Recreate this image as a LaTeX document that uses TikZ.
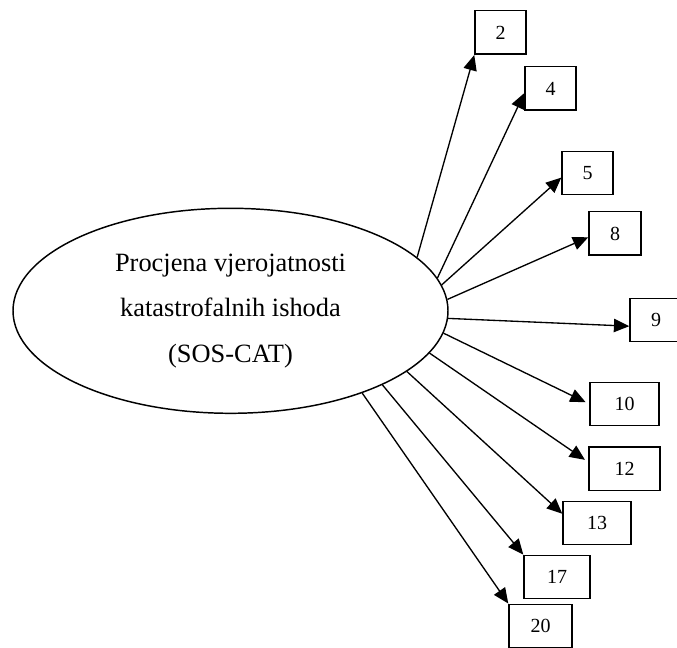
\documentclass[tikz,border=0pt]{standalone}
\usepackage{fontspec}
\setmainfont{Liberation Serif}
\usetikzlibrary{shapes.geometric,arrows.meta}
\begin{document}
\begin{tikzpicture}[x=0.75pt,y=-0.75pt,
  box/.style={draw, rectangle, line width=1.1pt, minimum height=32.6pt, inner sep=0pt, font=\fontsize{15}{18}\selectfont},
  arr/.style={draw, line width=1pt, -{Triangle[length=11.5pt,width=10pt]}}]
\clip (0,0) rectangle (677,648);
\node[draw, ellipse, line width=1.1pt, minimum width=326.25pt, minimum height=153.75pt, inner sep=0pt, align=center, font=\fontsize{19.8}{34}\selectfont] (cat) at (230.5,310.8) {Procjena vjerojatnosti\\katastrofalnih ishoda\\(SOS-CAT)};
\node[box, minimum width=38.25pt] (2) at (500.5,32.5) {2};
\node[box, minimum width=38.25pt] (4) at (550.5,88.5) {4};
\node[box, minimum width=38.25pt] (5) at (587.5,173) {5};
\node[box, minimum width=39pt] (8) at (615,233.5) {8};
\node[box, minimum width=39pt] (9) at (656,320) {9};
\node[box, minimum width=51.75pt] (10) at (624.5,404) {10};
\node[box, minimum width=53.25pt] (12) at (624.5,468.5) {12};
\node[box, minimum width=51pt] (13) at (597,523) {13};
\node[box, minimum width=49.5pt] (17) at (557,577) {17};
\node[box, minimum width=47.25pt] (20) at (540.5,626) {20};
\path (cat.16) edge[arr] (2.south west);
\path (cat.9.5) edge[arr] (4.190);
\path (cat.7) edge[arr] (5.190);
\path (cat.3) edge[arr] (8.188);
\path (cat.-2) edge[arr] (9.193);
\path (cat.-6.5) edge[arr, shorten >=3pt] (10.west);
\path (cat.-12.5) edge[arr, shorten >=3pt] (12.170);
\path (cat.-19) edge[arr] (13.165);
\path (cat.-26.5) edge[arr] (17.north west);
\path (cat.-32) edge[arr] (20.north west);
\end{tikzpicture}
\end{document}
